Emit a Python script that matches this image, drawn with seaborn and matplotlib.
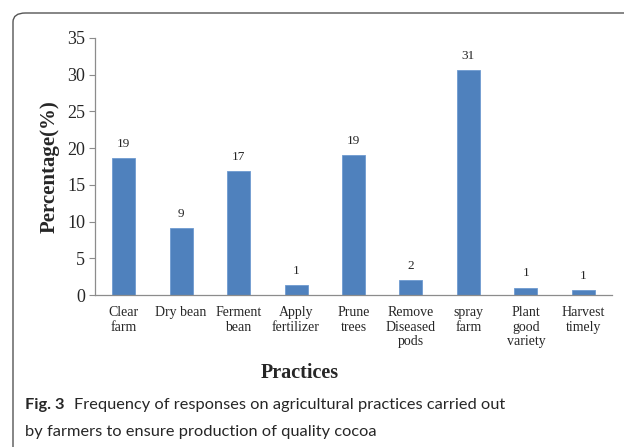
import matplotlib
matplotlib.use("Agg")
import matplotlib.pyplot as plt
from matplotlib.patches import FancyBboxPatch
import seaborn as sns
import pandas as pd

practices = ["Clear\nfarm", "Dry bean", "Ferment\nbean", "Apply\nfertilizer", "Prune\ntrees",
             "Remove\nDiseased\npods", "spray\nfarm", "Plant\ngood\nvariety", "Harvest\ntimely"]
percentages = [18.6, 9.1, 16.9, 1.3, 19.0, 2.0, 30.6, 1.0, 0.65]
value_labels = ["19", "9", "17", "1", "19", "2", "31", "1", "1"]
y_ticks = [0, 5, 10, 15, 20, 25, 30, 35]

sns.set_style("white")
plt.rcParams["font.family"] = ["Liberation Serif", "DejaVu Serif"]

df = pd.DataFrame({"Practice": practices, "Percentage": percentages})

fig = plt.figure(figsize=(6.24, 4.47), dpi=100)
ax = fig.add_axes([0.152, 0.340, 0.829, 0.575])

sns.barplot(data=df, x="Practice", y="Percentage", color="#4F81BD", saturation=1,
            width=0.4, ax=ax, edgecolor="#6F9BD0", linewidth=0.6)

ax.set_ylim(0, 35)
ax.set_yticks(y_ticks)
ax.set_xlim(-0.5, len(practices) - 0.5)
for s in ["top", "right"]:
    ax.spines[s].set_visible(False)
for s in ["left", "bottom"]:
    ax.spines[s].set_color("#8c8c8c")
    ax.spines[s].set_linewidth(0.9)
ax.tick_params(axis="y", which="major", direction="out", length=4, width=0.8,
               color="#8c8c8c", labelsize=13, pad=3, left=True)
ax.tick_params(axis="x", length=0, labelsize=10, pad=8)
for lab in ax.get_xticklabels():
    lab.set_linespacing(1.15)

ax.bar_label(ax.containers[0], labels=value_labels, padding=6, fontsize=9.5)

ax.set_ylabel("Percentage(%)", fontsize=15, fontweight="bold", labelpad=5)
ax.set_xlabel("")
fig.text(300 / 624, 1 - 373 / 447, "Practices", fontsize=14.5, fontweight="bold",
         ha="center", va="center")

# frame around the figure (top-left rounded corner, open at right/bottom)
frame = FancyBboxPatch((13 / 624, -0.2), 1.2, 1.2 - 13 / 447,
                       boxstyle="round,pad=0,rounding_size=0.02",
                       transform=fig.transFigure, fill=False,
                       edgecolor="#555555", linewidth=1.0, clip_on=False)
fig.patches.append(frame)

# caption
cap_font = ["Lato", "DejaVu Sans"]
t1 = fig.text(25 / 624, 1 - 405 / 447, "Fig. 3", fontsize=11.8, fontweight="bold",
              family=cap_font, va="center", ha="left")
fig.canvas.draw()
bb = t1.get_window_extent()
x_after = (bb.x1 + 9) / fig.bbox.width
fig.text(x_after, 1 - 405 / 447, "Frequency of responses on agricultural practices carried out",
         fontsize=11.8, family=cap_font, va="center", ha="left")
fig.text(25 / 624, 1 - 432 / 447, "by farmers to ensure production of quality cocoa",
         fontsize=11.8, family=cap_font, va="center", ha="left")

fig.savefig("out.png", dpi=100)
